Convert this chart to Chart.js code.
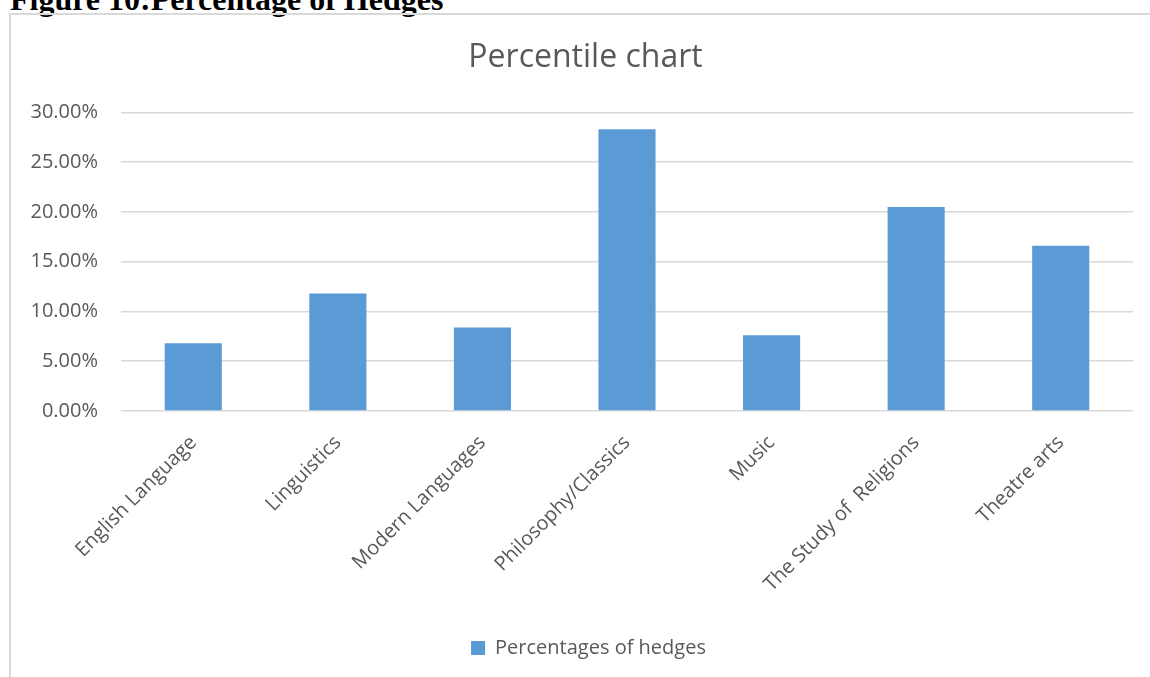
<!DOCTYPE html>
<html>
<head>
<meta charset="utf-8">
<script src="https://cdn.jsdelivr.net/npm/chart.js@4/dist/chart.umd.min.js"></script>
<style>
  html, body { margin: 0; padding: 0; background: #fff; width: 1150px; height: 677px; overflow: hidden; }
  #caption { position: absolute; left: 10px; top: -17px; font: bold 32px "Liberation Serif", "Times New Roman", serif; line-height: 1; color: #000; white-space: nowrap; }
  #frame { position: absolute; left: 9px; top: 13px; width: 1200px; height: 700px; border: 2px solid #d9d9d9; box-sizing: border-box; }
  #wrap { position: absolute; left: 0; top: 0; width: 1150px; height: 677px; }
</style>
</head>
<body>
<div id="caption">Figure 10:Percentage of Hedges</div>
<div id="frame"></div>
<div id="wrap"><canvas id="c" width="1150" height="677"></canvas></div>
<script>
// Subjects and their share of hedges (percent)
const categories = [
  'English Language',
  'Linguistics',
  'Modern Languages',
  'Philosophy/Classics',
  'Music',
  'The Study of  Religions',
  'Theatre arts'
];
const hedgePercentages = [6.8, 11.8, 8.4, 28.3, 7.6, 20.5, 16.6];
const seriesName = 'Percentages of hedges';
const chartTitle = 'Percentile chart';

const TEXT = '#595959';
const FONT = '"Open Sans", "Liberation Sans", sans-serif';

// Centre the title and legend over the whole chart frame rather than the
// space left after the wide value axis.
const recentreBlocks = {
  id: 'recentreBlocks',
  afterLayout(chart) {
    const t = chart.titleBlock;
    if (t) { t.left = 38; t.right = 1133; t.width = t.right - t.left; }
    const l = chart.legend;
    if (l) { l.left = 44; l.right = 1133; l.width = l.right - l.left; l.adjustHitBoxes && l.adjustHitBoxes(); }
  }
};

new Chart(document.getElementById('c'), {
  type: 'bar',
  data: {
    labels: categories,
    datasets: [{
      label: seriesName,
      data: hedgePercentages,
      backgroundColor: '#5b9bd5',
      borderWidth: 0,
      categoryPercentage: 1.0,
      barPercentage: 0.395
    }]
  },
  plugins: [recentreBlocks],
  options: {
    responsive: false,
    animation: false,
    devicePixelRatio: 1,
    layout: { padding: { left: 10, right: 17, top: 0, bottom: 9 } },
    plugins: {
      tooltip: { enabled: false },
      title: {
        display: true,
        text: chartTitle,
        color: TEXT,
        font: { family: FONT, size: 32, weight: 'normal', lineHeight: 1.2 },
        padding: { top: 39, bottom: 35 }
      },
      legend: {
        position: 'bottom',
        labels: {
          boxWidth: 14,
          boxHeight: 14,
          padding: 10,
          color: TEXT,
          font: { family: FONT, size: 20 }
        }
      }
    },
    scales: {
      x: {
        grid: { display: false },
        border: { display: false },
        ticks: {
          autoSkip: false,
          maxRotation: 45,
          minRotation: 45,
          padding: 12,
          color: TEXT,
          font: { family: FONT, size: 20 }
        },
        afterFit: (scale) => { scale.height = 217; }
      },
      y: {
        min: 0,
        max: 30,
        border: { display: false },
        grid: { color: '#d9d9d9', lineWidth: 1.5, drawTicks: false },
        ticks: {
          stepSize: 5,
          padding: 23,
          color: TEXT,
          font: { family: FONT, size: 20 },
          callback: (v) => v.toFixed(2) + '%'
        },
        afterFit: (scale) => { scale.width = 111; }
      }
    }
  }
});
</script>
</body>
</html>
